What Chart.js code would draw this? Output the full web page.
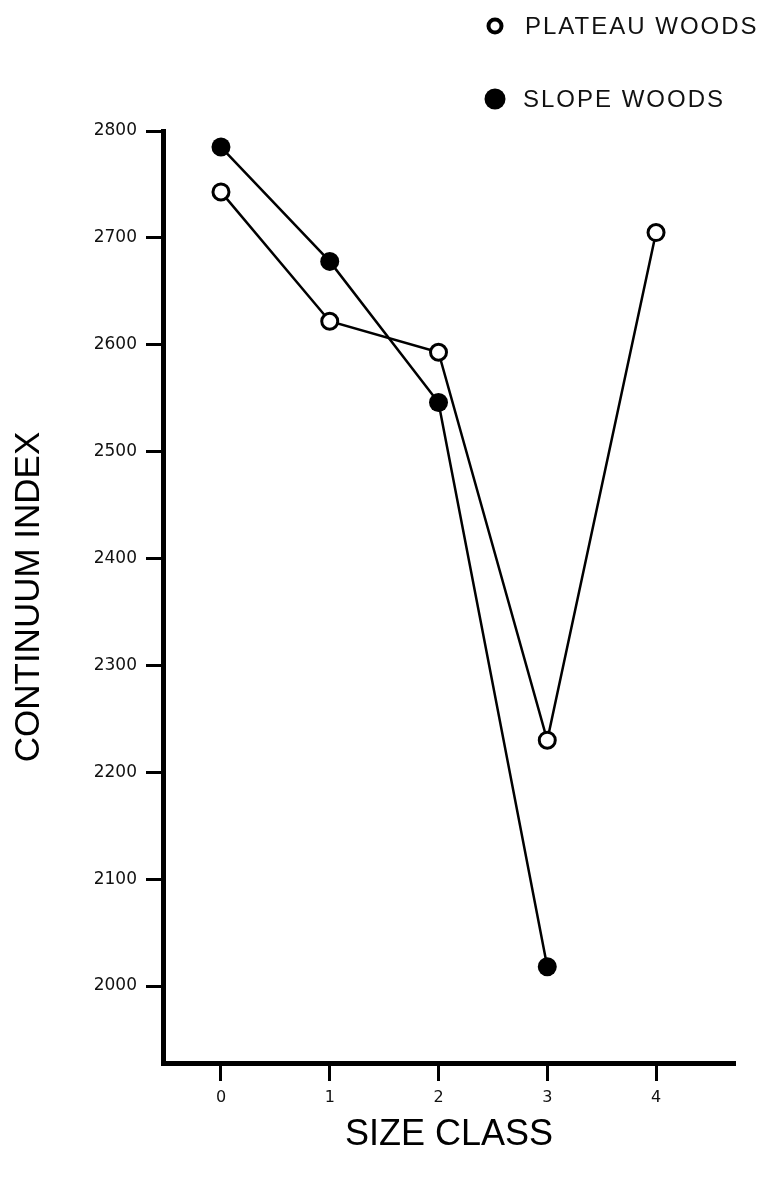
<!DOCTYPE html>
<html>
<head>
<meta charset="utf-8">
<script src="https://cdn.jsdelivr.net/npm/chart.js@4.4.1/dist/chart.umd.min.js"></script>
<style>
  html, body { margin: 0; padding: 0; background: #fff; }
  #wrap { width: 768px; height: 1181px; position: relative; }
</style>
</head>
<body>
<div id="wrap"><canvas id="chart"></canvas></div>
<script>
// size classes on the x axis
const sizeClasses = [0, 1, 2, 3, 4];
const yTicks = [2000, 2100, 2200, 2300, 2400, 2500, 2600, 2700, 2800];

const plateauWoods = [2743, 2622, 2593, 2230, 2705];
const slopeWoods = [2785, 2678, 2546, 2018];

const toPoints = (vals) => vals.map((v, i) => ({ x: sizeClasses[i], y: v }));

const FONT = '"Liberation Sans", Arial, sans-serif';
const TICK_FONT = '"DejaVu Sans", sans-serif';

// legend drawn top-right, stacked like the original
const legendPlugin = {
    id: 'stackedLegend',
    afterDraw(chart) {
        const ctx = chart.ctx;
        const rows = [
            { label: chart.data.datasets[0].label, filled: false, y: 26, tx: 525 },
            { label: chart.data.datasets[1].label, filled: true, y: 99, tx: 523 }
        ];
        ctx.save();
        rows.forEach(r => {
            ctx.beginPath();
            ctx.arc(495, r.y, r.filled ? 10.5 : 6.5, 0, Math.PI * 2);
            if (r.filled) {
                ctx.fillStyle = '#000';
                ctx.fill();
            } else {
                ctx.lineWidth = 4;
                ctx.strokeStyle = '#000';
                ctx.stroke();
            }
            ctx.fillStyle = '#111';
            ctx.font = '24px ' + FONT;
            ctx.letterSpacing = '2px';
            ctx.textBaseline = 'middle';
            ctx.textAlign = 'left';
            ctx.fillText(r.label, r.tx, r.y + 1);
        });
        ctx.restore();
    }
};

const ctx = document.getElementById('chart').getContext('2d');
new Chart(ctx, {
    type: 'scatter',
    data: {
        datasets: [{
            label: 'PLATEAU WOODS',
            data: toPoints(plateauWoods),
            showLine: true,
            borderColor: '#000',
            borderWidth: 2.5,
            pointRadius: 8,
            pointBorderWidth: 3,
            pointBackgroundColor: '#fff',
            pointBorderColor: '#000',
            tension: 0
        }, {
            label: 'SLOPE WOODS',
            data: toPoints(slopeWoods),
            showLine: true,
            borderColor: '#000',
            borderWidth: 2.5,
            pointRadius: 9.5,
            pointBorderWidth: 0,
            pointBackgroundColor: '#000',
            pointBorderColor: '#000',
            tension: 0
        }]
    },
    options: {
        responsive: true,
        maintainAspectRatio: false,
        animation: false,
        layout: { padding: { top: 131, right: 33, bottom: 0, left: 0 } },
        scales: {
            x: {
                type: 'linear',
                min: -0.533,
                max: 4.726,
                afterBuildTicks: (scale) => { scale.ticks = sizeClasses.map(v => ({ value: v })); },
                afterFit: (scale) => { scale.height = 118; },
                border: { display: true, color: '#000', width: 5 },
                grid: { drawOnChartArea: false, drawTicks: true, tickLength: 18, tickWidth: 3, tickColor: '#000' },
                ticks: { color: '#111', padding: 7, font: { family: TICK_FONT, size: 16 } },
                title: {
                    display: true,
                    text: 'SIZE CLASS',
                    color: '#000',
                    font: { family: FONT, size: 36, lineHeight: 1.2 },
                    padding: { top: 0, bottom: 24 }
                }
            },
            y: {
                min: 1928,
                max: 2800,
                afterBuildTicks: (scale) => { scale.ticks = yTicks.map(v => ({ value: v })); },
                afterFit: (scale) => { scale.width = 163; },
                border: { display: true, color: '#000', width: 5 },
                grid: { drawOnChartArea: false, drawTicks: true, tickLength: 17, tickWidth: 3, tickColor: '#000' },
                ticks: {
                    color: '#111',
                    padding: 9,
                    font: { family: TICK_FONT, size: 17 },
                    callback: (v) => String(v)
                },
                title: {
                    display: true,
                    text: 'CONTINUUM INDEX',
                    color: '#000',
                    font: { family: FONT, size: 35, lineHeight: 1.2 },
                    padding: { top: 8, bottom: 0 }
                }
            }
        },
        plugins: {
            legend: { display: false },
            tooltip: { enabled: false }
        }
    },
    plugins: [legendPlugin]
});
</script>
</body>
</html>
